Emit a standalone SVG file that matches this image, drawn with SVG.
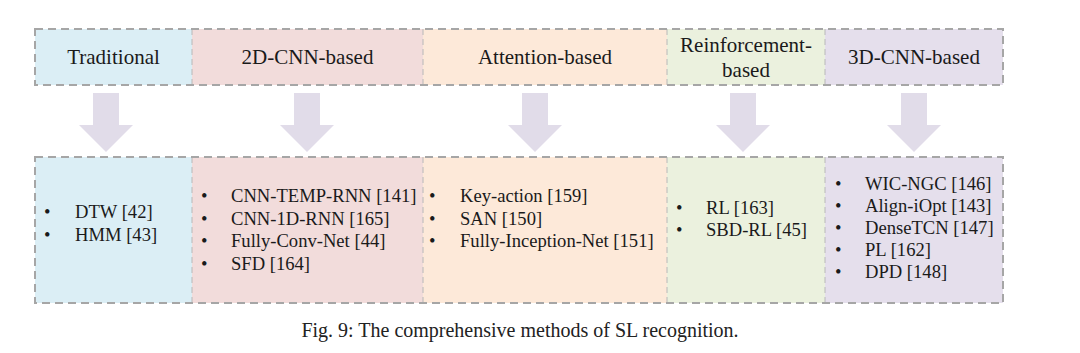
<svg xmlns="http://www.w3.org/2000/svg" width="1080" height="353" viewBox="0 0 1080 353">
<style>
.hd{font-family:"Liberation Serif","Times New Roman",serif;font-size:21px;fill:#1a1a1a;text-anchor:middle}
.it{font-family:"Liberation Serif","Times New Roman",serif;font-size:18.6px;fill:#1a1a1a}
.cap{font-family:"Liberation Serif","Times New Roman",serif;font-size:20px;fill:#222;text-anchor:middle}
.div{stroke:#b8b8b8;stroke-width:1;stroke-dasharray:6 4;fill:none}
.out{stroke:#a6a6a6;stroke-width:2;stroke-dasharray:8 5;fill:none}
.arr{fill:#e1dce9}
.c1{fill:#dbeef5}.c2{fill:#f2dcdb}.c3{fill:#fde9d9}.c4{fill:#ebf1de}.c5{fill:#e5dfec}
</style>
<rect width="1080" height="353" fill="#ffffff"/>
<g id="top-traditional"><rect class="c1" x="35" y="29" width="157" height="56"/><text class="hd" x="113.5" y="64">Traditional</text></g>
<g id="top-2dcnn"><rect class="c2" x="192" y="29" width="231" height="56"/><text class="hd" x="307.5" y="64">2D-CNN-based</text></g>
<g id="top-attention"><rect class="c3" x="423" y="29" width="244" height="56"/><text class="hd" x="545" y="64">Attention-based</text></g>
<g id="top-reinforcement"><rect class="c4" x="667" y="29" width="158" height="56"/><text class="hd" x="746" y="52">Reinforcement-</text><text class="hd" x="746" y="77">based</text></g>
<g id="top-3dcnn"><rect class="c5" x="825" y="29" width="178" height="56"/><text class="hd" x="914" y="64">3D-CNN-based</text></g>
<g id="top-borders"><line class="div" x1="192" y1="29" x2="192" y2="85"/><line class="div" x1="423" y1="29" x2="423" y2="85"/><line class="div" x1="667" y1="29" x2="667" y2="85"/><line class="div" x1="825" y1="29" x2="825" y2="85"/><rect class="out" x="35" y="29" width="968" height="56"/></g>

<g id="connectors">
<path class="arr" d="M93,93 H119 V125 H133 L106,152 L79,125 H93 Z"/>
<path class="arr" d="M294,93 H320 V125 H334 L307,152 L280,125 H294 Z"/>
<path class="arr" d="M522,93 H548 V125 H562 L535,152 L508,125 H522 Z"/>
<path class="arr" d="M730,93 H756 V125 H770 L743,152 L716,125 H730 Z"/>
<path class="arr" d="M901,93 H927 V125 H941 L914,152 L887,125 H901 Z"/>
</g>

<g id="bot-traditional"><rect class="c1" x="35" y="157" width="157" height="146"/>
<text class="it" x="44" y="218">•</text><text class="it" x="75" y="218">DTW [42]</text>
<text class="it" x="44" y="241">•</text><text class="it" x="75" y="241">HMM [43]</text></g>
<g id="bot-2dcnn"><rect class="c2" x="192" y="157" width="231" height="146"/>
<text class="it" x="201" y="202">•</text><text class="it" x="231" y="202">CNN-TEMP-RNN [141]</text>
<text class="it" x="201" y="224.5">•</text><text class="it" x="231" y="224.5">CNN-1D-RNN [165]</text>
<text class="it" x="201" y="247">•</text><text class="it" x="231" y="247">Fully-Conv-Net [44]</text>
<text class="it" x="201" y="269.5">•</text><text class="it" x="231" y="269.5">SFD [164]</text></g>
<g id="bot-attention"><rect class="c3" x="423" y="157" width="244" height="146"/>
<text class="it" x="429" y="202">•</text><text class="it" x="460" y="202">Key-action [159]</text>
<text class="it" x="429" y="224.5">•</text><text class="it" x="460" y="224.5">SAN [150]</text>
<text class="it" x="429" y="247">•</text><text class="it" x="460" y="247">Fully-Inception-Net [151]</text></g>
<g id="bot-reinforcement"><rect class="c4" x="667" y="157" width="158" height="146"/>
<text class="it" x="676" y="214">•</text><text class="it" x="706" y="214">RL [163]</text>
<text class="it" x="676" y="236">•</text><text class="it" x="706" y="236">SBD-RL [45]</text></g>
<g id="bot-3dcnn"><rect class="c5" x="825" y="157" width="178" height="146"/>
<text class="it" x="835" y="190">•</text><text class="it" x="865" y="190">WIC-NGC [146]</text>
<text class="it" x="835" y="212">•</text><text class="it" x="865" y="212">Align-iOpt [143]</text>
<text class="it" x="835" y="234">•</text><text class="it" x="865" y="234">DenseTCN [147]</text>
<text class="it" x="835" y="256">•</text><text class="it" x="865" y="256">PL [162]</text>
<text class="it" x="835" y="278">•</text><text class="it" x="865" y="278">DPD [148]</text></g>
<g id="bot-borders"><line class="div" x1="192" y1="157" x2="192" y2="303"/><line class="div" x1="423" y1="157" x2="423" y2="303"/><line class="div" x1="667" y1="157" x2="667" y2="303"/><line class="div" x1="825" y1="157" x2="825" y2="303"/><rect class="out" x="35" y="157" width="968" height="146"/></g>

<text class="cap" x="520" y="337">Fig. 9: The comprehensive methods of SL recognition.</text>
</svg>
